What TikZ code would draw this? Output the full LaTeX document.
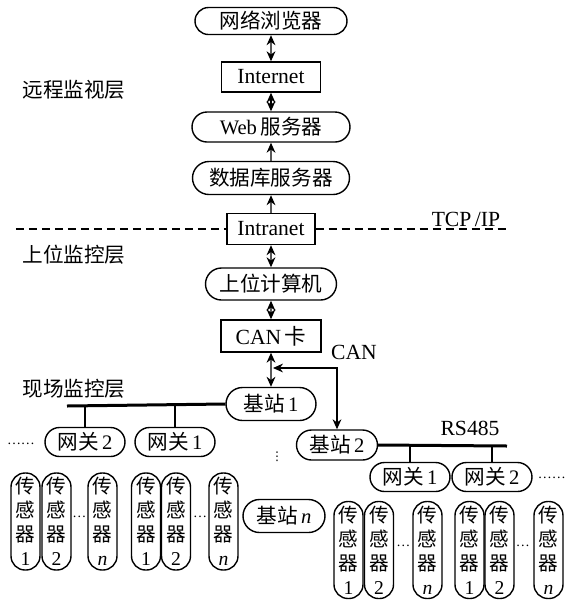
\documentclass[tikz,border=0pt]{standalone}
\usepackage{fontspec}
\setmainfont{Liberation Serif}
\newfontfamily\cjk{Noto Sans CJK SC}
\newfontfamily\symf{DejaVu Sans}
\newcommand\zh[1]{{\cjk #1}}
\usetikzlibrary{positioning, arrows.meta, shapes.misc}

\tikzset{
  pill/.style={draw, rounded rectangle, line width=0.7pt, inner sep=0pt, font=\fontsize{10.3}{12}\selectfont},
  netbox/.style={draw, rectangle, line width=0.7pt, inner sep=0pt, font=\fontsize{10.8}{12}\selectfont},
  gate/.style={pill, minimum width=40pt, minimum height=14.5pt},
  sensor/.style={draw, rectangle, rounded corners=7pt, line width=0.7pt, inner sep=0pt,
    minimum width=14.5pt, minimum height=48.5pt, align=center, font=\fontsize{9.8}{12}\selectfont\cjk},
  layer/.style={inner sep=0pt, font=\fontsize{10.3}{12}\selectfont\cjk},
  lbl/.style={inner sep=0pt, font=\fontsize{10.8}{12}\selectfont},
  gap/.style={inner sep=0pt, font=\fontsize{7}{8}\selectfont},
  dbl/.style={{Stealth[length=5pt, width=4.4pt]}-{Stealth[length=5pt, width=4.4pt]}, line width=0.7pt},
  sgl/.style={-{Stealth[length=5pt, width=4.4pt]}, line width=0.7pt},
  bus/.style={line width=1.5pt},
  drop/.style={line width=0.7pt},
  dashline/.style={line width=0.7pt, dash pattern=on 4pt off 2.5pt}
}

\begin{document}
\begin{tikzpicture}[x=0.5pt, y=-0.5pt, on grid]
  \useasboundingbox (0,0) rectangle (570,602);

  \node[pill, minimum width=76pt, minimum height=13.5pt] (browser) at (271,21) {\zh{网络浏览器}};
  \node[netbox, minimum width=49.5pt, minimum height=15pt] (internet) [below=28pt of browser] {Internet};
  \node[pill, minimum width=79pt, minimum height=15pt] (web) [below=25pt of internet] {Web\,\zh{服务器}};
  \node[pill, minimum width=78.5pt, minimum height=16.5pt] (db) [below=25.5pt of web] {\zh{数据库服务器}};
  \node[netbox, minimum width=44pt, minimum height=15.5pt] (intranet) [below=25.5pt of db] {Intranet};
  \node[pill, minimum width=65.5pt, minimum height=16pt] (host) [below=27.5pt of intranet] {\zh{上位计算机}};
  \node[netbox, minimum width=50pt, minimum height=16pt] (can) [below=26pt of host] {CAN\,\zh{卡}};
  \node[pill, minimum width=45pt, minimum height=16.5pt] (bs1) [below=34pt of can] {\zh{基站}\,1};

  \node[layer] (remote) at (74,90) {远程监视层};
  \node[layer] (upper) at (74,255) {上位监控层};
  \node[layer] (field) at (74,389) {现场监控层};
  \node[lbl] (tcpip) at (466,219) {TCP\,/IP};
  \node[lbl] (canlbl) at (354,352) {CAN};
  \node[lbl] (rs485) at (470,428) {RS485};

  \coordinate (dashL) at (16,229);
  \coordinate (dashR) at (510,229);
  \draw[dashline] (dashL) -- (intranet.west);
  \draw[dashline] (intranet.east) -- (dashR);

  \draw[dbl] (browser) -- (internet);
  \draw[dbl] (internet) -- (web);
  \draw[sgl] (db) -- (web);
  \draw[sgl] (intranet) -- (db);
  \draw[dbl] (intranet) -- (host);
  \draw[dbl] (host) -- (can);
  \draw[dbl] (can) -- (bs1);

  % left field bus
  \coordinate (bus1L) at (67,406);
  \node[gate] (gwL2) at (85,442) {\zh{网关}\,2};
  \node[gate] (gwL1) at (175,442) {\zh{网关}\,1};
  \node[gap] (dotsGL) at (21,444) {……};
  \draw[bus] (bs1.west) -- (bus1L);
  \draw[drop] (gwL2.north) -- (gwL2.north |- bus1L);
  \draw[drop] (gwL1.north) -- (gwL1.north |- bus1L);

  % right field bus
  \node[pill, minimum width=40.5pt, minimum height=15pt] (bs2) at (337,445) {\zh{基站}\,2};
  \coordinate (canJ) at (273,368);
  \draw[dbl] (canJ) -| (bs2.north);
  \coordinate (bus2R) at (507,446);
  \node[gate] (gwR1) at (410,477) {\zh{网关}\,1};
  \node[gate] (gwR2) at (492,477) {\zh{网关}\,2};
  \node[gap] (dotsGR) at (552,478) {……};
  \draw[bus] (bs2.east) -- (bus2R);
  \draw[drop] (gwR1.north) -- (gwR1.north |- bus2R);
  \draw[drop] (gwR2.north) -- (gwR2.north |- bus2R);

  \node[inner sep=0pt, font=\fontsize{6}{7}\selectfont\symf] (vdots) at (277,457) {⋮};
  \node[pill, minimum width=41pt, minimum height=16.5pt] (bsn) at (284,516) {\zh{基站}\,\textit{n}};

  % sensors
  \node[sensor] (sL1) at (25.5,521.5) {传\\感\\器\\{\rmfamily 1}};
  \node[sensor] (sL2) at (56.5,521.5) {传\\感\\器\\{\rmfamily 2}};
  \node[gap] (dL1) at (79.5,517) {…};
  \node[sensor] (sL3) at (102.5,521.5) {传\\感\\器\\{\rmfamily\itshape n}};
  \node[sensor] (sL4) at (146,521.5) {传\\感\\器\\{\rmfamily 1}};
  \node[sensor] (sL5) at (176,521.5) {传\\感\\器\\{\rmfamily 2}};
  \node[gap] (dL2) at (200,517) {…};
  \node[sensor] (sL6) at (223.5,521.5) {传\\感\\器\\{\rmfamily\itshape n}};

  \node[sensor] (sR1) at (348.5,550) {传\\感\\器\\{\rmfamily 1}};
  \node[sensor] (sR2) at (379,550) {传\\感\\器\\{\rmfamily 2}};
  \node[gap] (dR1) at (403.5,546) {…};
  \node[sensor] (sR3) at (427.5,550) {传\\感\\器\\{\rmfamily\itshape n}};
  \node[sensor] (sR4) at (469.5,550) {传\\感\\器\\{\rmfamily 1}};
  \node[sensor] (sR5) at (499.5,550) {传\\感\\器\\{\rmfamily 2}};
  \node[gap] (dR2) at (523,546) {…};
  \node[sensor] (sR6) at (548.5,550) {传\\感\\器\\{\rmfamily\itshape n}};
\end{tikzpicture}
\end{document}
